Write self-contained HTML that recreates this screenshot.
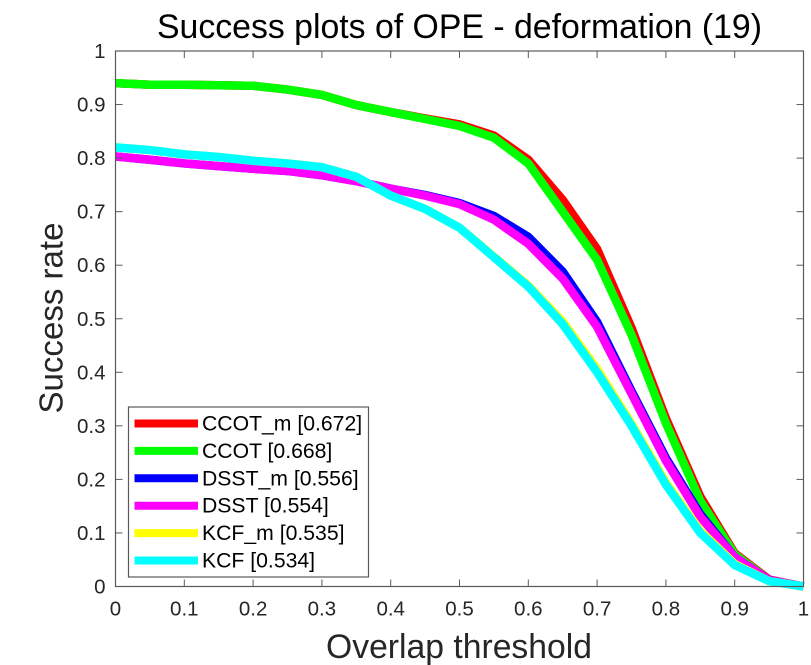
<!DOCTYPE html>
<html>
<head>
<meta charset="utf-8">
<style>
html,body{margin:0;padding:0;background:#fff;width:811px;height:665px;overflow:hidden}
svg{display:block}
text{font-family:"Liberation Sans",Arial,sans-serif}
</style>
</head>
<body>
<svg id="chart" width="811" height="665" viewBox="0 0 811 665" xmlns="http://www.w3.org/2000/svg">
<text x="459.5" y="38" font-size="33.9" text-anchor="middle" fill="#000" textLength="605" lengthAdjust="spacingAndGlyphs">Success plots of OPE - deformation (19)</text>
<text x="459" y="658" font-size="33.8" text-anchor="middle" fill="#262626" textLength="266" lengthAdjust="spacingAndGlyphs">Overlap threshold</text>
<text transform="translate(62.5,318) rotate(-90)" font-size="33.2" text-anchor="middle" fill="#262626" textLength="191" lengthAdjust="spacingAndGlyphs">Success rate</text>
<g id="series-layer"></g>
<g id="axes-layer"></g>
<g id="legend-layer"></g>
</svg>
<script>
const thresholds = [0,0.05,0.1,0.15,0.2,0.25,0.3,0.35,0.4,0.45,0.5,0.55,0.6,0.65,0.7,0.75,0.8,0.85,0.9,0.95,1];
const xTickLabels = ['0','0.1','0.2','0.3','0.4','0.5','0.6','0.7','0.8','0.9','1'];
const yTickLabels = ['0','0.1','0.2','0.3','0.4','0.5','0.6','0.7','0.8','0.9','1'];
const seriesNames = ['CCOT_m [0.672]','CCOT [0.668]','DSST_m [0.556]','DSST [0.554]','KCF_m [0.535]','KCF [0.534]'];
const seriesColors = ['#ff0000','#00ff00','#0000ff','#ff00ff','#ffff00','#00ffff'];
const ccotM = [0.94,0.937,0.937,0.936,0.935,0.928,0.918,0.899,0.886,0.874,0.863,0.842,0.797,0.722,0.63,0.483,0.314,0.168,0.062,0.013,0];
const ccot = [0.94,0.937,0.937,0.936,0.935,0.928,0.918,0.899,0.886,0.873,0.86,0.838,0.79,0.7,0.61,0.47,0.305,0.16,0.06,0.012,0];
const dsstM = [0.803,0.797,0.79,0.785,0.78,0.776,0.768,0.757,0.743,0.731,0.716,0.692,0.653,0.588,0.494,0.365,0.24,0.135,0.055,0.012,0];
const dsst = [0.803,0.797,0.79,0.785,0.78,0.776,0.768,0.757,0.743,0.73,0.714,0.685,0.64,0.575,0.485,0.36,0.235,0.13,0.055,0.012,0];
const kcfM = [0.82,0.815,0.807,0.802,0.795,0.79,0.783,0.765,0.73,0.705,0.67,0.616,0.562,0.495,0.406,0.304,0.194,0.104,0.042,0.01,0];
const kcf = [0.82,0.815,0.807,0.802,0.795,0.79,0.783,0.765,0.73,0.705,0.67,0.615,0.56,0.49,0.4,0.3,0.19,0.1,0.04,0.01,0];
const seriesValues = [ccotM,ccot,dsstM,dsst,kcfM,kcf];

const NS = 'http://www.w3.org/2000/svg';
const plot = {left:115.5,right:803.5,top:51,bottom:586.5};
function xScale(v){return plot.left+(plot.right-plot.left)*v;}
function yScale(v){return plot.bottom-(plot.bottom-plot.top)*v;}
function make(tag,attrs,parent){
  const el=document.createElementNS(NS,tag);
  for(const k in attrs){el.setAttribute(k,attrs[k]);}
  parent.appendChild(el);
  return el;
}
const seriesLayer=document.getElementById('series-layer');
const axesLayer=document.getElementById('axes-layer');
const legendLayer=document.getElementById('legend-layer');

seriesValues.forEach(function(vals,i){
  const pts=vals.map(function(v,j){return xScale(thresholds[j]).toFixed(2)+','+yScale(v).toFixed(2);}).join(' ');
  const line=make('polyline',{points:pts,fill:'none',stroke:seriesColors[i],'stroke-width':8.5,'stroke-linejoin':'miter','stroke-linecap':'butt'},seriesLayer);
  
  
});

const frame=make('rect',{x:plot.left,y:plot.top,width:plot.right-plot.left,height:plot.bottom-plot.top,fill:'none',stroke:'#5a5a5a','stroke-width':1.2},axesLayer);



xTickLabels.forEach(function(lbl,i){
  const v=i/(xTickLabels.length-1);
  const x=xScale(v);
  const t1=make('line',{x1:x,x2:x,y1:plot.bottom,y2:plot.bottom-7,stroke:'#5a5a5a','stroke-width':1},axesLayer);
  
  
  const t2=make('line',{x1:x,x2:x,y1:plot.top,y2:plot.top+7,stroke:'#5a5a5a','stroke-width':1},axesLayer);
  
  
  const tx=make('text',{x:x,y:615.5,'font-size':20.5,'text-anchor':'middle',fill:'#262626'},axesLayer);
  tx.textContent=lbl;
  
  
});
yTickLabels.forEach(function(lbl,i){
  const v=i/(yTickLabels.length-1);
  const y=yScale(v);
  const t1=make('line',{x1:plot.left,x2:plot.left+7,y1:y,y2:y,stroke:'#5a5a5a','stroke-width':1},axesLayer);
  
  
  const t2=make('line',{x1:plot.right,x2:plot.right-7,y1:y,y2:y,stroke:'#5a5a5a','stroke-width':1},axesLayer);
  
  
  const tx=make('text',{x:105.5,y:y+7,'font-size':20.5,'text-anchor':'end',fill:'#262626'},axesLayer);
  tx.textContent=lbl;
  
  
});

const box=make('rect',{x:128.5,y:407,width:240,height:170,fill:'#fff',stroke:'#5a5a5a','stroke-width':1.2},legendLayer);


seriesNames.forEach(function(name,i){
  const y=423.5+i*27.4;
  const sw=make('line',{x1:134.5,x2:198,y1:y,y2:y,stroke:seriesColors[i],'stroke-width':8},legendLayer);
  
  
  const tx=make('text',{x:202,y:y+7,'font-size':21.2,fill:'#000'},legendLayer);
  tx.textContent=name;
  
  
});
</script>
</body>
</html>
